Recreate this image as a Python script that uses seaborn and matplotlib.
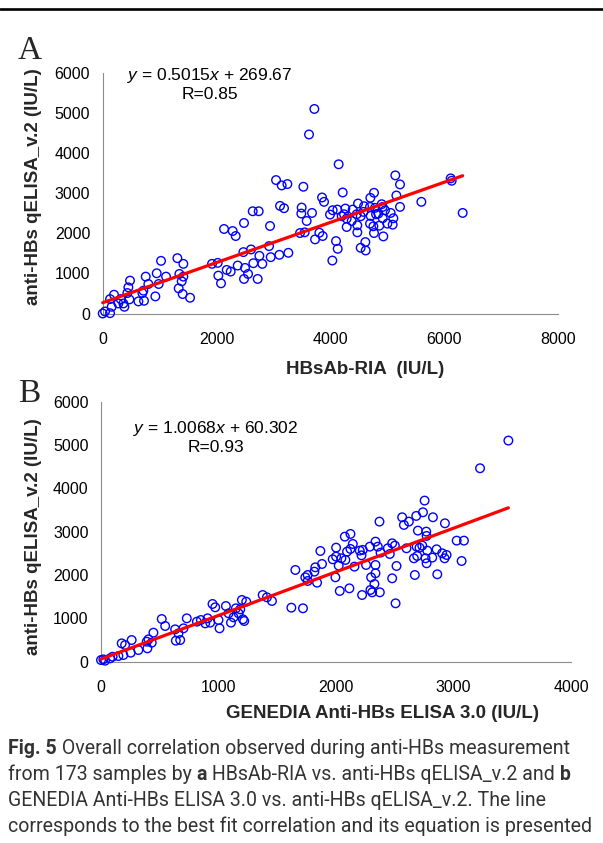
import matplotlib
matplotlib.use("Agg")
import matplotlib.pyplot as plt
from matplotlib.lines import Line2D
import seaborn as sns
import pandas as pd
import numpy as np

# ---------------- data ----------------
# Panel A: HBsAb-RIA (x) vs anti-HBs qELISA_v.2 (y)
a_x = [3046, 3145, 3245, 3116, 3186, 2636, 2741, 2483, 2940, 2132, 2284, 2337, 2923, 2952,
       3104, 3262, 2472, 2606, 2753, 2805, 2647, 2501, 2554, 2723, 2483, 2372, 2179, 2249,
       2021, 1921, 2032, 2079, 1312, 1417, 1347, 1417, 1388, 1335, 1405, 1535, 1025, 949,
       1113, 984, 925, 756, 802, 715, 697, 480, 451, 433, 469, 627, 726, 199, 129, 363,
       381, 158, 41, 0, 129, 316, 275,
       3719, 3625, 4146, 3526, 3854, 3889, 4217, 3496, 3490, 3678, 3584, 3467, 3549, 3807,
       3865, 3731, 4100, 4129, 4035, 5142, 5224, 5160, 4767, 4703, 4486, 4902, 5224, 5599,
       6114, 6132, 6325, 3994, 4041, 4123, 4264, 4240, 4392, 4463, 4533, 4592, 4697, 4785,
       4920, 4960, 5060, 5107, 5095, 5002, 4920, 4861, 4756, 4697, 4709, 4803, 4287, 4474,
       4474, 4767, 4931, 4375, 4287, 4199, 4615, 4533, 4621, 4843, 4580]
a_y = [3333, 3199, 3233, 2688, 2630, 2554, 2554, 2261, 2186, 2111, 2060, 1935, 1683, 1407,
       1466, 1516, 1533, 1600, 1441, 1240, 1256, 1139, 988, 863, 863, 1198, 1089, 1047,
       1265, 1240, 946, 754, 1382, 1240, 988, 921, 804, 628, 486, 394, 1315, 1005,
       921, 737, 427, 921, 737, 570, 511, 821, 653, 511, 352, 302, 318, 469, 360, 251,
       168, 168, 50, 0, 8, 360, 251,
       5109, 4472, 3727, 3166, 2898, 2789, 3023, 2646, 2496, 2512, 2311, 2010, 2027, 2018,
       1935, 1851, 1809, 1616, 1323, 3450, 3224, 2948, 3015, 2889, 2747, 2730, 2663, 2789,
       3375, 3316, 2512, 2471, 2579, 2596, 2621, 2479, 2596, 2479, 2429, 2680, 2663, 2638,
       2663, 2579, 2512, 2379, 2219, 2245, 2379, 2194, 2178, 2245, 2437, 2479, 2161, 2203,
       2027, 2010, 1926, 2311, 2370, 2429, 1784, 1641, 1574, 2496, 2538]

# Panel B: GENEDIA Anti-HBs ELISA 3.0 (x) vs anti-HBs qELISA_v.2 (y)
b_x = [0, 20, 34, 77, 99, 148, 190, 176, 205, 261, 253, 318, 395, 404, 432, 446, 389, 517,
       546, 631, 637, 674, 659, 702, 730, 816, 850, 887, 907, 949, 972, 929, 1000, 1009,
       1063, 1086, 1106, 1148, 1185, 1199, 1236, 1208, 1219, 1171, 1128, 1376, 1412, 1455,
       1620, 1654,
       3467, 3226, 2754, 2740, 2683, 2825, 2563, 2578, 2620, 2370, 2927, 2697, 2768, 2771,
       3027, 3089, 2123, 2075, 2143, 2123, 2001, 1867, 2288, 2336, 2356, 2379, 2441, 2478,
       2501, 2458, 2600, 2686, 2711, 2734, 2777, 2856, 2904, 2941, 2924, 2819, 2771, 2691,
       2663, 2762, 3069, 2862, 2671, 2515, 2478, 2507, 2373, 2308, 2327, 2299, 2336, 2336,
       2293, 2222, 2256, 2217, 2202, 2157, 2094, 2080, 2046, 2023, 1972, 2001, 1995, 2032,
       2114, 1881, 1824, 1816, 1759, 1739, 1759, 1839, 1719, 2228]
b_y = [38, 54, 23, 77, 115, 131, 154, 423, 385, 500, 208, 269, 308, 516, 439, 670, 462, 985,
       824, 747, 485, 500, 654, 770, 1001, 924, 962, 885, 1001, 1332, 1255, 901, 962, 770,
       1285, 1116, 901, 1232, 1208, 1424, 1385, 978, 939, 1116, 1024, 1539, 1486, 1401,
       1247, 2117,
       5103, 4464, 3718, 3448, 3364, 3333, 3333, 3156, 3233, 3233, 3194, 3025, 3002, 2902,
       2794, 2794, 2948, 2886, 2717, 2602, 2632, 2555, 2655, 2771, 2655, 2517, 2617, 2732,
       2679, 2486, 2617, 2655, 2632, 2679, 2563, 2594, 2502, 2463, 2386, 2402, 2271, 2440,
       2386, 2386, 2324, 2017, 2001, 2209, 1924, 1347, 1601, 1601, 1793, 1947, 2040, 2232,
       1655, 1539, 2232, 2455, 2563, 2194, 2540, 2348, 2386, 2217, 2363, 2425, 1947, 1632,
       1693, 2255, 2178, 2078, 2001, 1947, 1863, 1824, 1232, 2579]

fit_slope = [0.5015, 1.0068]
fit_intercept = [269.67, 60.302]
eq_texts = ["$y$ = 0.5015$x$ + 269.67", "$y$ = 1.0068$x$ + 60.302"]
r_texts = ["R=0.85", "R=0.93"]
x_labels = ["HBsAb-RIA  (IU/L)", "GENEDIA Anti-HBs ELISA 3.0 (IU/L)"]
y_label = "anti-HBs qELISA_v.2 (IU/L)"
panel_letters = ["A", "B"]
x_ticks = [[0, 2000, 4000, 6000, 8000], [0, 1000, 2000, 3000, 4000]]
y_ticks = [0, 1000, 2000, 3000, 4000, 5000, 6000]

caption_lines = [
    [("Fig. 5", True), (" Overall correlation observed during anti-HBs measurement", False)],
    [("from 173 samples by ", False), ("a", True),
     (" HBsAb-RIA vs. anti-HBs qELISA_v.2 and ", False), ("b", True)],
    [("GENEDIA Anti-HBs ELISA 3.0 vs. anti-HBs qELISA_v.2. The line", False)],
    [("corresponds to the best fit correlation and its equation is presented", False)],
]

# ---------------- style ----------------
sns.set_theme(style="white")
plt.rcParams["font.family"] = ["Liberation Sans", "DejaVu Sans"]
plt.rcParams["mathtext.fontset"] = "custom"
plt.rcParams["mathtext.rm"] = "Liberation Sans"
plt.rcParams["mathtext.it"] = "Liberation Sans:italic"

W, H = 603, 843
fig = plt.figure(figsize=(W / 100, H / 100), dpi=100)
fig.patch.set_facecolor("white")


def fx(px):
    return px / W


def fy(py):
    return 1 - py / H


# top rule
fig.add_artist(Line2D([0, 1], [fy(9), fy(9)], color="black", lw=1.9))

axA = fig.add_axes([fx(102.7), fy(313.5), (558 - 102.7) / W, (313.5 - 73.3) / H])
axB = fig.add_axes([fx(101), fy(661.7), (571 - 101) / W, (661.7 - 401.7) / H])

panels = [
    (axA, a_x, a_y, 0, (1886, 6000), (1886, 5500), (0.576, -0.198), (-0.133, 0.53)),
    (axB, b_x, b_y, 1, (980, 5439), (980, 4971), (0.60, -0.165), (-0.1255, 0.48)),
]

for ax, xs, ys, i, eqpos, rpos, xlc, ylc in panels:
    df = pd.DataFrame({"x": xs, "y": ys})
    sns.scatterplot(data=df, x="x", y="y", ax=ax, s=38, marker="o",
                    facecolor="none", edgecolor="#0000ff", linewidth=1.0,
                    clip_on=False, zorder=3)
    for coll in ax.collections:
        coll.set_facecolor("none")
        coll.set_edgecolor("#0000ff")
    xmin, xmax = min(xs), max(xs)
    line_df = pd.DataFrame({"x": [xmin, xmax],
                            "y": [fit_slope[i] * xmin + fit_intercept[i],
                                  fit_slope[i] * xmax + fit_intercept[i]]})
    sns.lineplot(data=line_df, x="x", y="y", ax=ax, color="#ff0000", lw=2.3,
                 zorder=4, clip_on=False)

    ax.set_xlim(x_ticks[i][0], x_ticks[i][-1])
    ax.set_ylim(0, 6000)
    ax.set_xticks(x_ticks[i])
    ax.set_yticks(y_ticks)
    ax.set_xticklabels([str(t) for t in x_ticks[i]])
    ax.set_yticklabels([str(t) for t in y_ticks])
    sns.despine(ax=ax)
    for sp in ["left", "bottom"]:
        ax.spines[sp].set_color("#8c8c8c")
        ax.spines[sp].set_linewidth(0.8)
    ax.tick_params(axis="both", which="major", direction="out", length=4,
                   width=0.8, color="#8c8c8c", labelsize=11.5, labelcolor="black")
    ax.tick_params(axis="x", pad=9)
    ax.tick_params(axis="y", pad=5)
    ax.grid(False)

    ax.set_xlabel(x_labels[i], fontsize=13.5, fontweight="bold")
    ax.set_ylabel(y_label, fontsize=13.5, fontweight="bold")
    ax.xaxis.set_label_coords(*xlc)
    ax.yaxis.set_label_coords(*ylc)

    ax.text(eqpos[0], eqpos[1], eq_texts[i], ha="center", va="center_baseline",
            fontsize=12.5, color="black")
    ax.text(rpos[0], rpos[1], r_texts[i], ha="center", va="center_baseline",
            fontsize=12.5, color="black")

# panel letters
fig.text(fx(18), fy(59), panel_letters[0], family=["Liberation Serif", "DejaVu Serif"],
         fontsize=24, va="baseline", ha="left")
fig.text(fx(18), fy(401.5), panel_letters[1], family=["Liberation Serif", "DejaVu Serif"],
         fontsize=24, va="baseline", ha="left")

# caption
cap_family = ["Roboto", "DejaVu Sans"]
renderer = fig.canvas.get_renderer()


def weight(bold):
    return "bold" if bold else "normal"


def text_width(s, size, bold):
    t = fig.text(0, 0, s + "|", fontsize=size, family=cap_family, fontweight=weight(bold))
    w1 = t.get_window_extent(renderer).width
    t.remove()
    t2 = fig.text(0, 0, "|", fontsize=size, family=cap_family, fontweight=weight(bold))
    w2 = t2.get_window_extent(renderer).width
    t2.remove()
    return w1 - w2


base = 14.0
w_last = text_width(caption_lines[3][0][0], base, False)
cap_size = base * (587.0 / w_last)

baselines = [754.5, 780.5, 806.0, 832.0]
for line, bl in zip(caption_lines, baselines):
    x = 8.0
    for seg, bold in line:
        fig.text(fx(x), fy(bl), seg, fontsize=cap_size, family=cap_family,
                 fontweight=weight(bold), va="baseline", ha="left",
                 color="#333333")
        x += text_width(seg, cap_size, bold)

fig.savefig("out.png", dpi=100, facecolor="white")
